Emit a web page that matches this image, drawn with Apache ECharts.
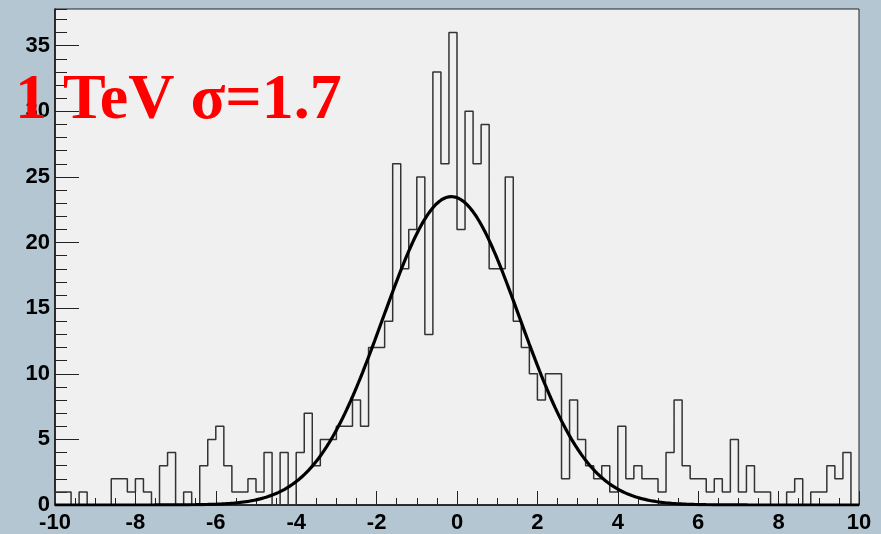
<!DOCTYPE html>
<html>
<head>
<meta charset="utf-8">
<script src="https://cdn.jsdelivr.net/npm/echarts@6/dist/echarts.min.js"></script>
<style>
  html, body { margin: 0; padding: 0; background: #b4c6d2; }
  #chart { width: 881px; height: 534px; }
</style>
</head>
<body>
<div id="chart"></div>
<script>
// Histogram binning: 100 bins of width 0.2 from -10 to 10
const binStart = -10;
const binWidth = 0.2;
const counts = [
  1, 1, 0, 1, 0, 0, 0, 2, 2, 1,
  2, 1, 0, 3, 4, 0, 1, 0, 3, 5,
  6, 3, 1, 1, 2, 1, 4, 0, 4, 0,
  4, 7, 3, 5, 5, 6, 6, 8, 6, 12,
  12, 14, 26, 18, 21, 25, 13, 33, 26, 36,
  21, 30, 26, 29, 18, 18, 25, 14, 12, 10,
  8, 10, 10, 2, 8, 5, 3, 2, 3, 1,
  6, 2, 3, 2, 2, 1, 4, 8, 3, 2,
  2, 1, 2, 1, 5, 1, 3, 1, 1, 0,
  0, 1, 2, 0, 1, 1, 3, 2, 4, 0
];

// Gaussian fit parameters
const fitAmplitude = 23.5;
const fitMean = -0.14;
const fitSigma = 1.7;

// Axis ranges
const xRange = [-10, 10];
const yRange = [0, 37.8];

const titleText = '1 TeV \u03c3=1.7';

// Outline points for the step line: left edge of each bin with its count
const histPoints = [[binStart, 0]];
counts.forEach((c, k) => histPoints.push([+(binStart + k * binWidth).toFixed(4), c]));
const binEnd = +(binStart + counts.length * binWidth).toFixed(4);
histPoints.push([binEnd, counts[counts.length - 1]]);
histPoints.push([binEnd, 0]);

// Fitted curve sampled across the histogram range
const fitPoints = [];
for (let i = 0; i <= 400; i++) {
  const x = xRange[0] + (xRange[1] - xRange[0]) * i / 400;
  const z = (x - fitMean) / fitSigma;
  fitPoints.push([x, fitAmplitude * Math.exp(-0.5 * z * z)]);
}

const labelFont = {
  color: '#000',
  fontFamily: '"Liberation Sans Narrow", "Liberation Sans", Arial, sans-serif',
  fontWeight: 'bold',
  fontSize: 22
};

const chart = echarts.init(document.getElementById('chart'), null, { renderer: 'canvas' });
chart.setOption({
  backgroundColor: '#b4c6d2',
  animation: false,
  grid: {
    left: 55, right: 22, top: 9, bottom: 26,
    show: true,
    backgroundColor: '#f0f0f0',
    borderColor: '#222',
    borderWidth: 1
  },
  xAxis: [
    {
      type: 'value', min: xRange[0], max: xRange[1], interval: 2,
      position: 'bottom',
      axisLine: { show: true, onZero: false, lineStyle: { color: '#111', width: 1.5 } },
      axisTick: { inside: true, length: 14, lineStyle: { color: '#222', width: 1 } },
      axisLabel: Object.assign({ margin: 7 }, labelFont),
      splitLine: { show: false }
    },
    {
      type: 'value', min: xRange[0], max: xRange[1], interval: 0.5,
      position: 'bottom',
      axisLine: { show: false, onZero: false },
      axisTick: { inside: true, length: 7, lineStyle: { color: '#222', width: 1 } },
      axisLabel: { show: false },
      splitLine: { show: false }
    }
  ],
  yAxis: [
    {
      type: 'value', min: yRange[0], max: yRange[1], interval: 5,
      position: 'left',
      axisLine: { show: true, onZero: false, lineStyle: { color: '#111', width: 1.5 } },
      axisTick: { inside: true, length: 24, lineStyle: { color: '#222', width: 1 } },
      axisLabel: Object.assign({ margin: 5, showMaxLabel: false }, labelFont),
      splitLine: { show: false }
    },
    {
      type: 'value', min: yRange[0], max: yRange[1], interval: 1,
      position: 'left',
      axisLine: { show: false, onZero: false },
      axisTick: { inside: true, length: 12, lineStyle: { color: '#222', width: 1 } },
      axisLabel: { show: false },
      splitLine: { show: false }
    }
  ],
  series: [
    {
      name: 'histogram',
      type: 'line',
      step: 'end',
      data: histPoints,
      xAxisIndex: 0, yAxisIndex: 0,
      showSymbol: false,
      symbol: 'none',
      lineStyle: { color: '#333', width: 1.5 },
      z: 3
    },
    {
      name: 'fit',
      type: 'line',
      data: fitPoints,
      xAxisIndex: 0, yAxisIndex: 0,
      showSymbol: false,
      symbol: 'none',
      smooth: false,
      clip: true,
      lineStyle: { color: '#000', width: 3.2 },
      z: 4
    }
  ],
  graphic: [
    {
      type: 'text',
      left: 15,
      top: 69,
      z: 10,
      style: {
        text: titleText,
        font: 'bold 64px "Liberation Serif", "Times New Roman", serif',
        fill: '#ff0000'
      }
    }
  ]
});
</script>
</body>
</html>
